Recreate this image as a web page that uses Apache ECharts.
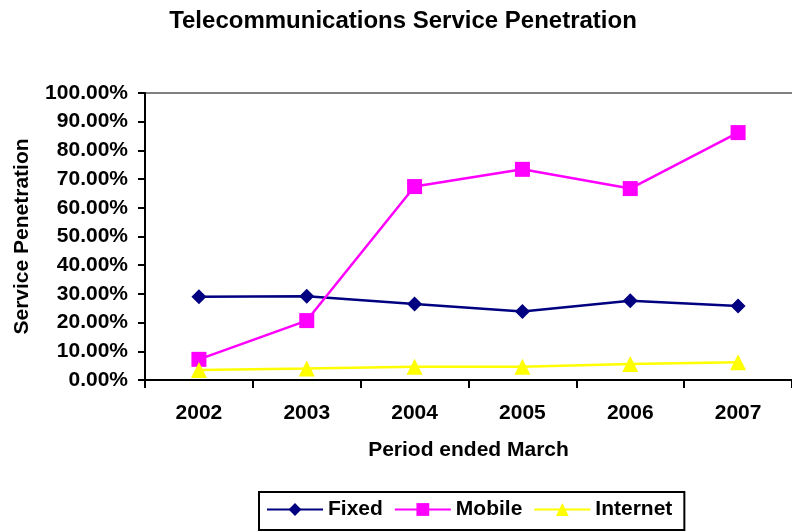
<!DOCTYPE html>
<html>
<head>
<meta charset="utf-8">
<script src="https://cdn.jsdelivr.net/npm/echarts@6/dist/echarts.min.js"></script>
<style>
  html, body { margin: 0; padding: 0; background: #fff; }
</style>
</head>
<body>
<div id="main" style="width: 792px;height:531px;"></div>
<script type="text/javascript">
    // data
    var years = ['2002', '2003', '2004', '2005', '2006', '2007'];
    var fixed = [29.0, 29.2, 26.5, 23.9, 27.6, 25.8];
    var mobile = [7.2, 20.7, 67.4, 73.4, 66.7, 86.2];
    var internet = [3.5, 4.0, 4.6, 4.6, 5.6, 6.2];
    var yTicks = [0, 10, 20, 30, 40, 50, 60, 70, 80, 90, 100];

    var font = 'Arial, "Liberation Sans", sans-serif';

    // only the 100% line is drawn (grey), the rest stay hidden
    var splitColors = yTicks.map(function (v) {
        return v === 100 ? '#808080' : 'rgba(0,0,0,0)';
    });

    var myChart = echarts.init(document.getElementById('main'));

    var option = {
        animation: false,
        backgroundColor: '#fff',
        textStyle: {fontFamily: font},
        title: {
            text: 'Telecommunications Service Penetration',
            left: 398,
            textAlign: 'center',
            top: 4,
            textStyle: {fontSize: 24, fontWeight: 'bold', color: '#000', fontFamily: font}
        },
        legend: {
            left: 259,
            top: 492,
            itemWidth: 56,
            itemHeight: 16,
            itemGap: 11,
            padding: [7, 12, 10, 7],
            borderColor: '#000',
            borderWidth: 2,
            textStyle: {fontSize: 21, fontWeight: 'bold', color: '#000', fontFamily: font},
            data: ['Fixed', 'Mobile', 'Internet']
        },
        grid: {
            left: 145,
            top: 93,
            bottom: 151,
            right: -9
        },
        xAxis: {
            type: 'category',
            data: years,
            boundaryGap: true,
            name: 'Period ended March',
            nameLocation: 'middle',
            nameGap: 60,
            nameTextStyle: {fontSize: 21, fontWeight: 'bold', color: '#000'},
            axisLine: {lineStyle: {color: '#000', width: 2}},
            axisTick: {show: true, length: 8, lineStyle: {color: '#000', width: 2}},
            axisLabel: {margin: 23, fontSize: 21, fontWeight: 'bold', color: '#000'}
        },
        yAxis: {
            type: 'value',
            min: 0,
            max: 100,
            interval: 10,
            name: 'Service Penetration',
            nameLocation: 'middle',
            nameGap: 112,
            nameTextStyle: {fontSize: 21, fontWeight: 'bold', color: '#000'},
            axisLine: {show: true, lineStyle: {color: '#000', width: 2}},
            axisTick: {show: true, length: 7, lineStyle: {color: '#000', width: 2}},
            axisLabel: {
                margin: 17,
                fontSize: 21,
                fontWeight: 'bold',
                color: '#000',
                formatter: function (value) {
                    return value.toFixed(2) + '%';
                }
            },
            splitLine: {show: true, lineStyle: {color: splitColors, width: 2}}
        },
        series: [
            {
                name: 'Fixed',
                type: 'line',
                data: fixed,
                symbol: 'diamond',
                symbolSize: 15,
                lineStyle: {color: '#000080', width: 2.5},
                itemStyle: {color: '#000080'}
            },
            {
                name: 'Mobile',
                type: 'line',
                data: mobile,
                symbol: 'rect',
                symbolSize: 15,
                lineStyle: {color: '#ff00ff', width: 2.5},
                itemStyle: {color: '#ff00ff'}
            },
            {
                name: 'Internet',
                type: 'line',
                data: internet,
                symbol: 'triangle',
                symbolSize: 16,
                lineStyle: {color: '#ffff00', width: 2.5},
                itemStyle: {color: '#ffff00'}
            }
        ]
    };

    myChart.setOption(option);
</script>
</body>
</html>
